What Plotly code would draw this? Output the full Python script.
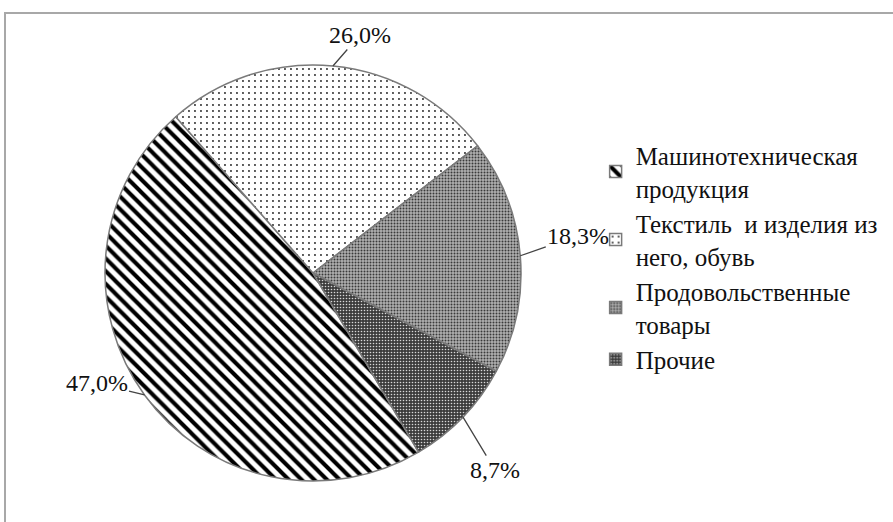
import math
import plotly.graph_objects as go

categories = ["Машинотехническая<br>продукция", "Текстиль  и изделия из<br>него, обувь",
              "Продовольственные<br>товары", "Прочие"]
shares = [47.0, 26.0, 18.3, 8.7]

W, H = 893, 522
cx, cy, r = 313, 273, 208
rotation = 149.5
SERIF = "Liberation Serif"

fig = go.Figure(go.Pie(
    labels=categories,
    values=shares,
    sort=False,
    direction="clockwise",
    rotation=rotation,
    textinfo="none",
    marker=dict(
        colors=["white", "white", "#a0a0a0", "#4a4a4a"],
        line=dict(color="#7a7a7a", width=1.5),
        pattern=dict(
            shape=["\\", ".", ".", "."],
            fgcolor=["#000000", "#222222", "#3a3a3a", "#d8d8d8"],
            bgcolor=["#ffffff", "#ffffff", "#b0b0b0", "#3c3c3c"],
            size=[9, 6, 3, 3],
            solidity=[0.45, 0.08, 0.35, 0.22],
        ),
    ),
    domain=dict(x=[(cx - r) / W, (cx + r) / W], y=[1 - (cy + r) / H, 1 - (cy - r) / H]),
    hoverinfo="label+percent",
))

# percentage labels with leader lines, anchored at each slice's mid-angle
label_offsets = [(-48, -12), (27, -31), (58, -20), (32, 53)]
total = sum(shares)
cum = 0.0
annotations = []
for v, (ax, ay) in zip(shares, label_offsets):
    theta = math.radians(rotation + 360.0 * (cum + v / 2) / total)
    cum += v
    px = cx + r * math.sin(theta)
    py = cy - r * math.cos(theta)
    annotations.append(dict(
        x=px / W, y=1 - py / H, xref="paper", yref="paper",
        text=f"{v:.1f}".replace(".", ",") + "%",
        showarrow=True, arrowhead=0, arrowwidth=1.3, arrowcolor="#444444",
        ax=ax, ay=ay, standoff=0,
        font=dict(family=SERIF, size=24, color="#111111"),
    ))

fig.update_layout(
    width=W, height=H,
    margin=dict(l=0, r=0, t=0, b=0),
    paper_bgcolor="white",
    font=dict(family=SERIF, size=22, color="#111111"),
    showlegend=True,
    legend=dict(
        x=0.667, y=0.746, xanchor="left", yanchor="top",
        font=dict(family=SERIF, size=25, color="#111111"),
        bgcolor="rgba(0,0,0,0)",
    ),
    annotations=annotations,
    shapes=[dict(type="rect", xref="paper", yref="paper",
                 x0=5 / W, x1=1.02, y0=-0.05, y1=1 - 13 / H,
                 line=dict(color="#a8a8a8", width=2))],
)

fig.write_html("out.html", config={"displayModeBar": False},
               post_script="document.body.style.margin='0';")
